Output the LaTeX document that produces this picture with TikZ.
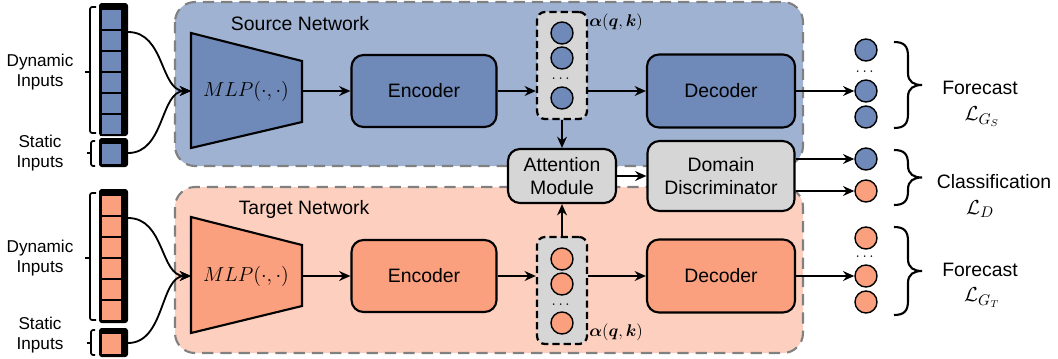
\documentclass[tikz,border=0pt]{standalone}
\usepackage{amsmath, amssymb}
\usepackage{bm}
\usepackage{fontspec}
\setmainfont{Liberation Sans}
\usetikzlibrary{arrows.meta}

\definecolor{srcbg}{RGB}{160,178,210}
\definecolor{srcfill}{RGB}{111,137,184}
\definecolor{tgtbg}{RGB}{252,207,190}
\definecolor{tgtfill}{RGB}{250,160,126}
\definecolor{boxgray}{RGB}{214,214,214}
\definecolor{dashgray}{RGB}{128,128,128}

\tikzset{
  block/.style={draw, line width=1.5pt, rounded corners=0.3cm, align=center,
    font=\fontsize{13.8}{16.3}\selectfont},
  net/.style={draw=dashgray, line width=1.5pt, dash pattern=on 8pt off 5pt, rounded corners=0.5cm},
  col/.style={draw, line width=1.6pt, dash pattern=on 5pt off 3pt, rounded corners=0.2cm,
    fill=boxgray, minimum width=1.25cm, minimum height=2.675cm},
  unit/.style={circle, draw, line width=1pt, minimum size=0.55cm, inner sep=0pt},
  arr/.style={-{Stealth[length=8pt, width=7pt]}, line width=1.3pt},
  cell/.style={draw, line width=1.3pt},
  trap/.style={draw, line width=1.5pt},
  bracket/.style={draw, line width=1.2pt, rounded corners=1.5pt},
  curly/.style={draw, line width=1.5pt},
  lbl/.style={font=\fontsize{12.2}{14.5}\selectfont, align=center},
  txt/.style={font=\fontsize{13.8}{16}\selectfont, align=center},
  loss/.style={font=\fontsize{15}{17}\selectfont},
  alph/.style={font=\fontsize{12}{14}\selectfont},
  dots/.style={font=\fontsize{11}{12}\selectfont, inner sep=0pt},
}

\newcommand{\outbrace}[3]{%
  \pgfmathsetmacro{\bmid}{(#2+#3)/2}
  \draw[curly] (#1,#2) .. controls +(10,0) and +(0,-10) .. (#1+14,#2+14)
    -- (#1+14,\bmid-12) .. controls +(0,9) and +(-8,0) .. (#1+28,\bmid)
    .. controls +(-8,0) and +(0,-9) .. (#1+14,\bmid+12)
    -- (#1+14,#3-14) .. controls +(0,10) and +(10,0) .. (#1,#3);}

\begin{document}
\begin{tikzpicture}[x=0.025cm, y=-0.025cm]
\useasboundingbox (0,0) rectangle (1058,358);

\draw[net, fill=srcbg] (175,2) rectangle (803,166);
\draw[net, fill=tgtbg] (175,187) rectangle (803,353);
\node[txt] (srcname) at (300,24) {Source Network};
\node[txt] (tgtname) at (304,209) {Target Network};

\node[lbl] (dynSname) at (40,72) {Dynamic\\Inputs};
\node[lbl] (statSname) at (40,153) {Static\\Inputs};
\node[lbl] (dynTname) at (40,258) {Dynamic\\Inputs};
\node[lbl] (statTname) at (40,335) {Static\\Inputs};

\draw[bracket] (96,7) -- (90,7) -- (90,133) -- (96,133);
\draw[bracket] (90,72) -- (85,72);
\draw[bracket] (95,141) -- (91,141) -- (91,166) -- (95,166);
\draw[bracket] (91,153) -- (87,153);
\draw[bracket] (96,193) -- (90,193) -- (90,320) -- (96,320);
\draw[bracket] (90,258) -- (85,258);
\draw[bracket] (95,330) -- (91,330) -- (91,355) -- (95,355);
\draw[bracket] (91,343) -- (87,343);

\fill[rounded corners=2pt] (99,3) rectangle (128,136);
\foreach \y in {9,30,51,72,93,114}
  \draw[cell, fill=srcfill] (101,\y) rectangle (122,\y+21);
\fill[rounded corners=2pt] (99,138) rectangle (128,167);
\draw[cell, fill=srcfill] (101,143) rectangle (122,165);
\fill[rounded corners=2pt] (99,189) rectangle (128,323);
\foreach \y in {195,216,237,258,279,300}
  \draw[cell, fill=tgtfill] (101,\y) rectangle (122,\y+21);
\fill[rounded corners=2pt] (99,328) rectangle (128,357);
\draw[cell, fill=tgtfill] (101,333) rectangle (122,355);

\coordinate (dynS) at (128,32);
\coordinate (statS) at (128,153);
\coordinate (dynT) at (128,218);
\coordinate (statT) at (128,343);

\draw[trap, fill=srcfill] (191,33) -- (302,61) -- (302,122) -- (191,148) -- cycle;
\node[txt] (mlpS) at (246,91) {$MLP(\cdot,\cdot)$};
\coordinate (mlpSin) at (191,91);
\coordinate (mlpSout) at (302,91);
\draw[trap, fill=tgtfill] (191,217) -- (302,245) -- (302,306) -- (191,333) -- cycle;
\node[txt] (mlpT) at (246,276) {$MLP(\cdot,\cdot)$};
\coordinate (mlpTin) at (191,276);
\coordinate (mlpTout) at (302,276);

\node[block, fill=srcfill, minimum width=3.625cm, minimum height=1.8cm] (encS) at (424,91) {Encoder};
\node[block, fill=tgtfill, minimum width=3.625cm, minimum height=1.8cm] (encT) at (424,276) {Encoder};

\node[col] (colS) at (562,65.5) {};
\node[unit, fill=srcfill] (aS1) at (562,33) {};
\node[unit, fill=srcfill] (aS2) at (562,58) {};
\node[dots] (dS) at (562,79) {$\cdots$};
\node[unit, fill=srcfill] (aS3) at (562,98) {};
\node[alph] (alS) at (616,22) {$\bm{\alpha}(\bm{q},\bm{k})$};

\node[col] (colT) at (562,290.5) {};
\node[unit, fill=tgtfill] (aT1) at (562,259) {};
\node[unit, fill=tgtfill] (aT2) at (562,284) {};
\node[dots] (dT) at (562,305) {$\cdots$};
\node[unit, fill=tgtfill] (aT3) at (562,323) {};
\node[alph] (alT) at (616,332) {$\bm{\alpha}(\bm{q},\bm{k})$};

\node[block, fill=srcfill, minimum width=3.7cm, minimum height=1.825cm] (decS) at (721,91) {Decoder};
\node[block, fill=tgtfill, minimum width=3.7cm, minimum height=1.825cm] (decT) at (721,276) {Decoder};

\node[block, fill=boxgray, minimum width=2.7cm, minimum height=1.35cm] (att) at (562,176) {Attention\\Module};
\node[block, fill=boxgray, minimum width=3.675cm, minimum height=1.75cm] (disc) at (721,176) {Domain\\Discriminator};

\node[unit, fill=srcfill] (oS1) at (866,50) {};
\node[dots] (doS) at (866,72) {$\cdots$};
\node[unit, fill=srcfill] (oS2) at (866,91) {};
\node[unit, fill=srcfill] (oS3) at (866,117) {};
\node[unit, fill=srcfill] (oC1) at (866,159) {};
\node[unit, fill=tgtfill] (oC2) at (866,191) {};
\node[unit, fill=tgtfill] (oT1) at (866,238) {};
\node[dots] (doT) at (866,257) {$\cdots$};
\node[unit, fill=tgtfill] (oT2) at (866,276) {};
\node[unit, fill=tgtfill] (oT3) at (866,302) {};

\draw[arr] (dynS) .. controls (165,32) and (160,91) .. (mlpSin);
\draw[arr] (statS) .. controls (165,153) and (160,91) .. (mlpSin);
\draw[arr] (dynT) .. controls (165,218) and (160,276) .. (mlpTin);
\draw[arr] (statT) .. controls (165,343) and (160,276) .. (mlpTin);

\draw[arr] (mlpSout) -- (encS);
\draw[arr] (encS.east) -- (encS.east -| colS.west);
\draw[arr] (colS.east |- decS) -- (decS);
\draw[arr] (decS) -- (oS2);
\draw[arr] (mlpTout) -- (encT);
\draw[arr] (encT.east) -- (encT.east -| colT.west);
\draw[arr] (colT.east |- decT) -- (decT);
\draw[arr] (decT) -- (oT2);
\draw[arr] (colS) -- (att);
\draw[arr] (colT) -- (att);
\draw[arr] (att) -- (disc);
\draw[arr] (disc.east |- oC1) -- (oC1);
\draw[arr] (disc.east |- oC2) -- (oC2);

\outbrace{894}{42}{128}
\outbrace{894}{150}{205}
\outbrace{894}{227}{315}

\node[txt] (fcS) at (980,88) {Forecast};
\node[loss] (lossS) at (982,117) {$\mathcal{L}_{G_S}$};
\node[txt] (cls) at (994,182) {Classification};
\node[loss] (lossD) at (980,209) {$\mathcal{L}_D$};
\node[txt] (fcT) at (980,270) {Forecast};
\node[loss] (lossT) at (982,298) {$\mathcal{L}_{G_T}$};
\end{tikzpicture}
\end{document}
